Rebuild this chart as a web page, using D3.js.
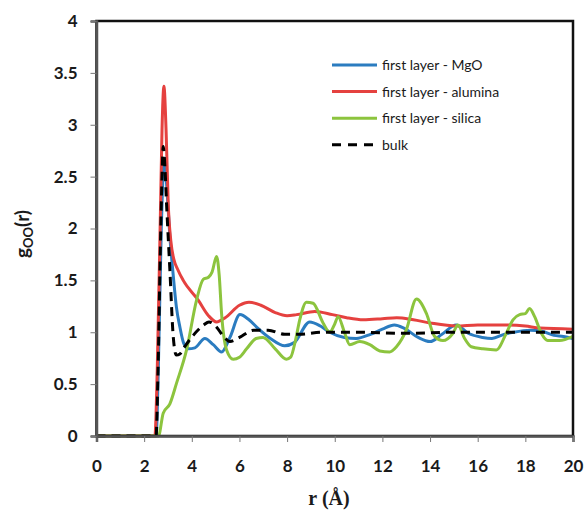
<!DOCTYPE html>
<html>
<head>
<meta charset="utf-8">
<script src="https://cdn.jsdelivr.net/npm/d3@7"></script>
<style>
  body { margin: 0; background: #fff; }
  svg text { fill: #1a1a1a; }
</style>
</head>
<body>
<div id="chart"></div>
<script>
// g_OO(r) curves as [r, g] pairs
const mgo = [[0,0],[2.5,0],[2.6,0.7],[2.72,2.0],[2.85,2.68],[2.95,2.4],[3.08,1.92],[3.22,1.55],[3.35,1.25],[3.5,1.05],[3.65,0.9],[3.85,0.84],[4.13,0.85],[4.55,0.94],[4.9,0.88],[5.25,0.81],[5.6,0.95],[6.02,1.17],[6.4,1.12],[6.72,1.05],[7.3,0.94],[7.9,0.87],[8.3,0.9],[8.95,1.1],[9.4,1.06],[9.79,1.0],[10.4,0.95],[10.9,0.94],[11.5,0.98],[12.0,1.03],[12.5,1.07],[12.9,1.04],[13.5,0.95],[14.0,0.91],[14.5,0.98],[15.1,1.07],[15.6,0.99],[16.2,0.95],[16.6,0.94],[17.1,0.98],[17.5,1.0],[18.2,1.02],[18.7,1.01],[19.2,0.97],[19.6,0.96],[20,0.94]];
const alumina = [[0,0],[2.45,0],[2.55,0.64],[2.69,2.24],[2.75,2.95],[2.83,3.37],[2.92,2.95],[3.01,2.24],[3.12,1.88],[3.25,1.7],[3.4,1.61],[3.64,1.5],[4.27,1.31],[4.7,1.16],[5.04,1.1],[5.4,1.14],[6.0,1.26],[6.4,1.29],[6.9,1.26],[7.5,1.19],[8.0,1.16],[8.4,1.17],[9.16,1.2],[9.9,1.17],[10.5,1.14],[11.2,1.12],[12.0,1.13],[12.6,1.14],[13.3,1.12],[14.0,1.09],[15.1,1.06],[16.0,1.07],[17.2,1.07],[18.0,1.06],[18.6,1.04],[20,1.03]];
const silica = [[0,0],[2.6,0],[2.8,0.22],[3.08,0.31],[3.36,0.51],[3.78,0.83],[4.2,1.31],[4.48,1.51],[4.7,1.53],[4.85,1.58],[5.04,1.73],[5.15,1.55],[5.25,1.18],[5.46,0.83],[5.74,0.74],[6.0,0.76],[6.3,0.84],[6.7,0.94],[6.99,0.95],[7.5,0.84],[7.97,0.74],[8.15,0.76],[8.35,0.92],[8.53,1.12],[8.81,1.29],[9.09,1.28],[9.51,1.09],[9.79,1.0],[10.0,1.08],[10.14,1.15],[10.42,0.99],[10.63,0.88],[11.05,0.91],[11.47,0.88],[11.89,0.82],[12.3,0.81],[12.59,0.86],[13.0,1.02],[13.43,1.32],[13.85,1.18],[14.19,0.96],[14.54,0.92],[14.96,0.99],[15.17,1.07],[15.45,0.94],[15.73,0.86],[16.22,0.84],[16.78,0.83],[17.2,0.99],[17.48,1.12],[17.76,1.17],[18.0,1.18],[18.18,1.23],[18.39,1.15],[18.67,0.99],[18.94,0.92],[19.43,0.92],[20,0.96]];
const bulk = [[0,0],[2.5,0],[2.58,0.6],[2.68,1.8],[2.75,2.5],[2.8,2.79],[2.87,2.6],[2.94,2.24],[3.08,1.6],[3.22,0.96],[3.35,0.78],[3.5,0.79],[3.7,0.86],[4.06,0.97],[4.5,1.07],[4.72,1.1],[5.0,1.06],[5.3,0.97],[5.6,0.91],[6.0,0.95],[6.6,1.02],[7.2,1.02],[7.9,0.98],[8.5,0.98],[9.5,1.0],[11,1.0],[13,0.99],[15,1.0],[17,1.0],[20,1.0]];

const seriesNames = ['first layer - MgO', 'first layer - alumina', 'first layer - silica', 'bulk'];
const xTicks = [0, 2, 4, 6, 8, 10, 12, 14, 16, 18, 20];
const yTicks = [0, 0.5, 1, 1.5, 2, 2.5, 3, 3.5, 4];

const size = { w: 587, h: 512 };
const margin = { top: 21, right: 14, bottom: 76, left: 96.5 };
const width = size.w - margin.left - margin.right;
const height = size.h - margin.top - margin.bottom;

const series = [
    { name: seriesNames[0], data: mgo, color: '#2b7cc0', dash: null },
    { name: seriesNames[1], data: alumina, color: '#e5413f', dash: null },
    { name: seriesNames[2], data: silica, color: '#8cc43e', dash: null },
    { name: seriesNames[3], data: bulk, color: '#000', dash: '9,6' }
];

const x = d3.scaleLinear().domain([0, 20]).range([0, width]);
const y = d3.scaleLinear().domain([0, 4]).range([height, 0]);

const svg = d3.select('#chart').append('svg')
    .attr('width', size.w).attr('height', size.h);
const g = svg.append('g').attr('transform', `translate(${margin.left}, ${margin.top})`);

const line = d3.line()
    .x(d => x(d[0]))
    .y(d => y(d[1]))
    .curve(d3.curveMonotoneX);

g.append('g').attr('class', 'lines')
    .selectAll('path')
    .data(series)
    .enter().append('path')
    .attr('d', d => line(d.data))
    .attr('fill', 'none')
    .attr('stroke', d => d.color)
    .attr('stroke-width', 3)
    .attr('stroke-dasharray', d => d.dash)
    .attr('stroke-linejoin', 'round');

// frame
g.append('rect')
    .attr('width', width).attr('height', height)
    .attr('fill', 'none').attr('stroke', '#111').attr('stroke-width', 2.5);

const xAxis = g.append('g')
    .attr('transform', `translate(0, ${height})`)
    .call(d3.axisBottom(x).tickValues(xTicks).tickSize(6).tickPadding(18));
const yAxis = g.append('g')
    .call(d3.axisLeft(y).tickValues(yTicks).tickSize(6).tickPadding(13).tickFormat(d3.format('')));

[xAxis, yAxis].forEach(a => {
    a.select('.domain').attr('stroke', '#555').attr('stroke-width', 2.5);
    a.selectAll('.tick line').attr('stroke', '#777').attr('stroke-width', 1);
    a.selectAll('.tick text')
        .attr('font-family', 'Lato, "Open Sans", sans-serif')
        .attr('font-weight', 'bold')
        .attr('font-size', 17)
        .attr('fill', '#1a1a1a');
});

// axis titles
svg.append('text')
    .attr('x', 329).attr('y', 505)
    .attr('text-anchor', 'middle')
    .attr('font-family', '"Liberation Serif", "DejaVu Serif", serif')
    .attr('font-weight', 'bold')
    .attr('font-size', 20)
    .text('r (Å)');

const yt = svg.append('text')
    .attr('transform', 'translate(29, 234) rotate(-90)')
    .attr('text-anchor', 'middle')
    .attr('font-family', 'Lato, "Open Sans", sans-serif')
    .attr('font-weight', 'bold')
    .attr('font-size', 19);
yt.append('tspan').text('g');
yt.append('tspan').attr('font-size', 13).attr('dy', 4).text('OO');
yt.append('tspan').attr('dy', -4).text('(r)');

// legend
const legend = svg.append('g').attr('transform', 'translate(332, 65)');
const item = legend.selectAll('g')
    .data(series)
    .enter().append('g')
    .attr('transform', (d, i) => `translate(0, ${i * 26.6})`);
item.append('line')
    .attr('x1', 0).attr('x2', 45)
    .attr('stroke', d => d.color)
    .attr('stroke-width', 3)
    .attr('stroke-dasharray', d => d.dash ? '9,7' : null);
item.append('text')
    .attr('x', 50).attr('dy', '0.35em')
    .attr('font-family', 'Lato, "Open Sans", sans-serif')
    .attr('font-size', 14)
    .text(d => d.name);
</script>
</body>
</html>
